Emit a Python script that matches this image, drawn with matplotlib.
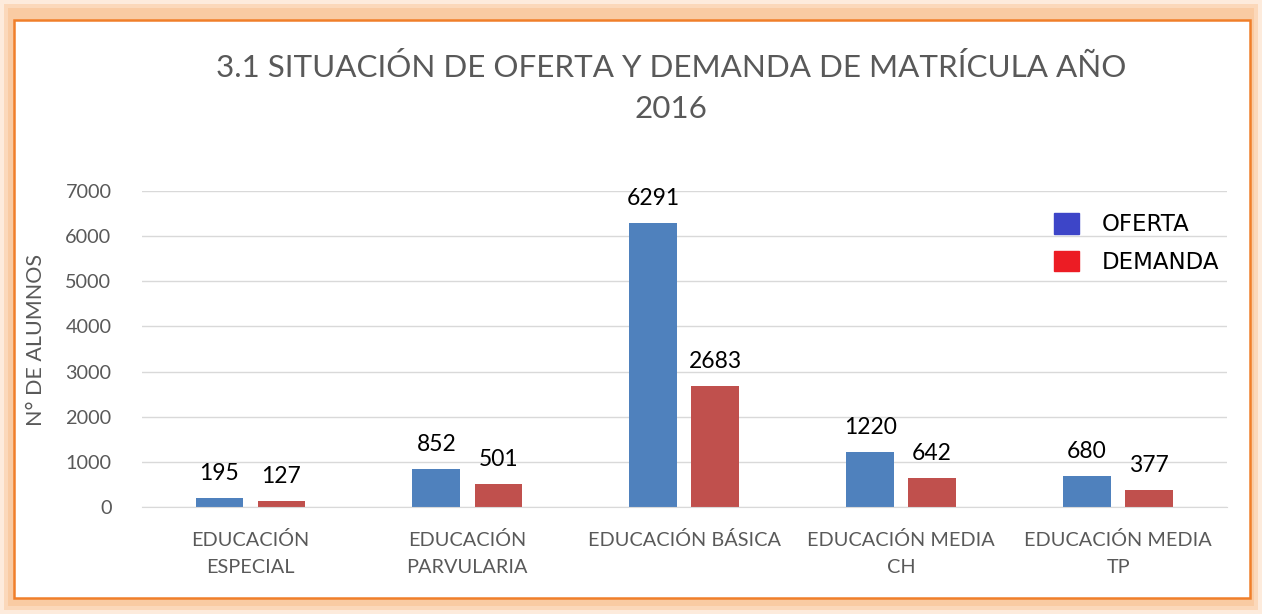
import matplotlib.pyplot as plt
import matplotlib.patches as mpatches
import numpy as np

categorias = ['EDUCACIÓN\nESPECIAL', 'EDUCACIÓN\nPARVULARIA', 'EDUCACIÓN BÁSICA',
              'EDUCACIÓN MEDIA\nCH', 'EDUCACIÓN MEDIA\nTP']
oferta = [195, 852, 6291, 1220, 680]
demanda = [127, 501, 2683, 642, 377]

plt.rcParams['font.family'] = ['Lato', 'DejaVu Sans']
gris = '#595959'

fig = plt.figure(figsize=(12.62, 6.14), dpi=100, facecolor='#FAC59A')

# marco con brillo anaranjado
for i, c in enumerate(['#FDEBDC', '#FBD8BA', '#F9CBA3']):
    d = i * 4
    fig.patches.append(mpatches.Rectangle((d / 1262, d / 614), 1 - 2 * d / 1262, 1 - 2 * d / 614,
                                          transform=fig.transFigure, facecolor=c, edgecolor='none', zorder=-3))
fig.patches.append(mpatches.Rectangle((14 / 1262, 16 / 614), 1236 / 1262, 578 / 614,
                                      transform=fig.transFigure, facecolor='white',
                                      edgecolor='#F07F2A', linewidth=1.8, zorder=-2))

ax = fig.add_axes([0.1125, 0.1743, 0.8594, 0.5146])
ax.set_facecolor('none')

x = np.arange(len(categorias))
w = 0.22
b1 = ax.bar(x - 0.143, oferta, w, color='#4F81BD', zorder=3)
b2 = ax.bar(x + 0.143, demanda, w, color='#C0504D', zorder=3)

for bars, vals in [(b1, oferta), (b2, demanda)]:
    for rect, v in zip(bars, vals):
        ax.annotate(str(v), (rect.get_x() + rect.get_width() / 2, v), textcoords='offset points',
                    xytext=(0, 10), ha='center', va='bottom', fontsize=16.5, color='black')

ax.set_xlim(-0.5, len(categorias) - 0.5)
ax.set_ylim(0, 7000)
ax.set_yticks(range(0, 7001, 1000))
ax.set_xticks(x)
ax.set_xticklabels(categorias, fontsize=14.3, color=gris, linespacing=1.75)
ax.tick_params(axis='y', labelsize=14.3, labelcolor=gris, length=0, pad=22)
ax.tick_params(axis='x', length=0, pad=17)
ax.grid(axis='y', color='#D9D9D9', linewidth=1, zorder=0)
for s in ['top', 'right', 'left']:
    ax.spines[s].set_visible(False)
ax.spines['bottom'].set_color('#D9D9D9')
ax.spines['bottom'].set_zorder(4)

ax.set_ylabel('N° DE ALUMNOS', fontsize=15.5, color=gris, labelpad=14)
ax.yaxis.label.set_y(0.53)

fig.text(0.532, 0.857, '3.1 SITUACIÓN DE OFERTA Y DEMANDA DE MATRÍCULA AÑO\n2016',
         ha='center', va='center', fontsize=22.6, color=gris, linespacing=1.55)

h1 = mpatches.Patch(color='#3D45C8')
h2 = mpatches.Patch(color='#EC1C24')
ax.legend([h1, h2], ['OFERTA', 'DEMANDA'], loc='upper right', bbox_to_anchor=(1.012, 0.995),
          frameon=False, handlelength=1.05, handleheight=1.0, handletextpad=1.0,
          labelspacing=0.62, prop={'family': 'DejaVu Sans', 'size': 16.5})

fig.savefig('out.png', dpi=100, facecolor=fig.get_facecolor())
